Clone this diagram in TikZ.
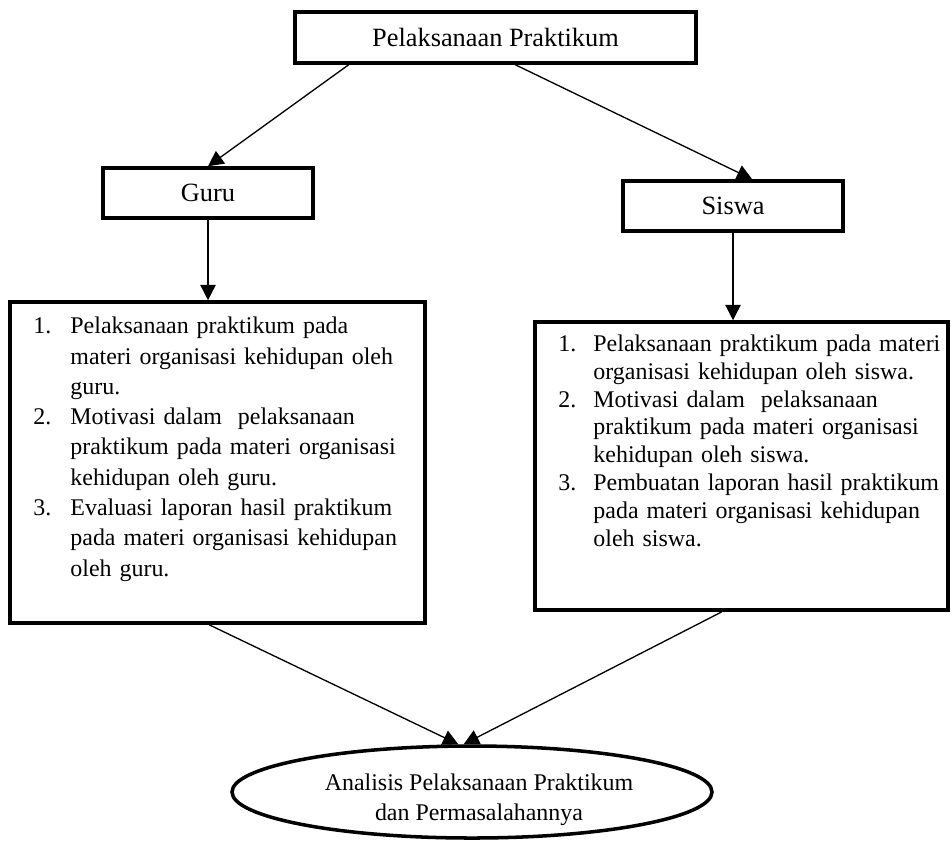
\documentclass[tikz,border=0pt]{standalone}
\usepackage{fontspec}
\setmainfont{Liberation Serif}
\usepackage{enumitem}
\usetikzlibrary{shapes,arrows.meta,positioning,calc}
\hyphenpenalty=10000
\exhyphenpenalty=10000
\tikzstyle{box} = [draw, rectangle, line width=1.6pt, inner sep=0pt, font=\fontsize{12}{14}\selectfont]
\tikzstyle{oval} = [draw, ellipse, line width=1.6pt, inner sep=0pt]
\tikzstyle{itemtext} = [anchor=north west, inner sep=0pt, align=left]
\tikzstyle{line} = [draw, line width=0.6pt, -{Triangle[length=7pt,width=7pt]}]

\begin{document}
\begin{tikzpicture}[x=0.016cm, y=-0.016cm]
    \useasboundingbox (0,0) rectangle (952,843);
    % Boxes
    \node [box, minimum width=401*0.016cm, minimum height=51*0.016cm] (pelaksanaan) at (495.5,37.5) {Pelaksanaan Praktikum};
    \node [box, minimum width=210*0.016cm, minimum height=50*0.016cm] (guru) at (208,193) {Guru};
    \node [box, minimum width=220*0.016cm, minimum height=50*0.016cm] (siswa) at (733,206) {Siswa};
    \node [box, minimum width=415*0.016cm, minimum height=321*0.016cm] (guruBox) at (217.5,462.5) {};
    \node [box, minimum width=413*0.016cm, minimum height=288*0.016cm] (siswaBox) at (741.5,466) {};
    \node [oval, minimum width=480*0.016cm, minimum height=92*0.016cm] (analisis) at (472,792) {};

    % Texts
    \node [itemtext, text width=369*0.016cm, font=\fontsize{10.9}{13.8}\selectfont] (guruText) at (33,303) {%
      \begin{enumerate}[leftmargin=0.592cm, labelwidth=0.592cm, labelsep=0pt, align=left, topsep=0pt, partopsep=0pt, itemsep=0pt, parsep=0pt]
        \item Pelaksanaan praktikum pada materi organisasi kehidupan oleh guru.
        \item Motivasi dalam\ \ pelaksanaan praktikum pada materi organisasi kehidupan oleh guru.
        \item Evaluasi laporan hasil praktikum pada materi organisasi kehidupan oleh guru.
      \end{enumerate}};
    \node [itemtext, text width=387*0.016cm, font=\fontsize{10.9}{12.7}\selectfont] (siswaText) at (558,323) {%
      \begin{enumerate}[leftmargin=0.56cm, labelwidth=0.56cm, labelsep=0pt, align=left, topsep=0pt, partopsep=0pt, itemsep=0pt, parsep=0pt]
        \item Pelaksanaan praktikum pada materi organisasi kehidupan oleh siswa.
        \item Motivasi dalam\ \ pelaksanaan praktikum pada materi organisasi kehidupan oleh siswa.
        \item Pembuatan laporan hasil praktikum pada materi organisasi kehidupan oleh siswa.
      \end{enumerate}};
    \node [align=center, inner sep=0pt, font=\fontsize{10.9}{13.6}\selectfont] (analisisText) at (479,800) {Analisis Pelaksanaan Praktikum\\dan Permasalahannya};

    % Connections
    \draw [line] ($(pelaksanaan.south west)!0.137!(pelaksanaan.south east)$) -- (guru.north);
    \draw [line] ($(pelaksanaan.south west)!0.549!(pelaksanaan.south east)$) -- ($(siswa.north west)!0.586!(siswa.north east)$);
    \draw [line] (guru.south) -- (guru.south |- guruBox.north);
    \draw [line] (siswa.south) -- (siswa.south |- siswaBox.north);
    \draw [line] ($(guruBox.south west)!0.48!(guruBox.south east)$) -- (analisis.106);
    \draw [line] ($(siswaBox.south west)!0.453!(siswaBox.south east)$) -- (analisis.100);
\end{tikzpicture}
\end{document}
